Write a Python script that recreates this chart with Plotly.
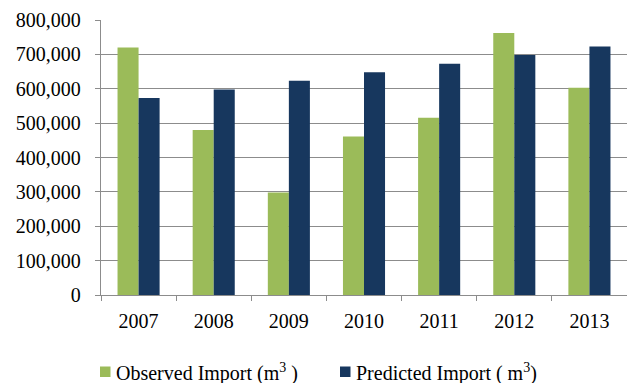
import plotly.graph_objects as go

years = ["2007", "2008", "2009", "2010", "2011", "2012", "2013"]
observed = [720000, 480000, 298000, 461000, 516000, 762000, 603000]
predicted = [573000, 598000, 623000, 648000, 673000, 698000, 723000]
y_ticks = [0, 100000, 200000, 300000, 400000, 500000, 600000, 700000, 800000]
y_tick_labels = ["0", "100,000", "200,000", "300,000", "400,000", "500,000", "600,000", "700,000", "800,000"]
series_names = ["Observed Import (m<sup>3</sup> )", "Predicted Import ( m<sup>3</sup>)"]

GREEN = "#9BBB59"
NAVY = "#17375E"
GRID = "#8C8C8C"
FONT = "Liberation Serif"

W, H = 627, 383
ML, MR, MT, MB = 101, 0, 20, 88
PW, PH = W - ML - MR, H - MT - MB


def px_x(px):
    return (px - ML) / PW


def px_y(py):
    return (H - MB - py) / PH


fig = go.Figure()
fig.add_trace(go.Bar(x=years, y=observed, name=series_names[0],
                     marker=dict(color=GREEN, line=dict(width=0)), showlegend=False))
fig.add_trace(go.Bar(x=years, y=predicted, name=series_names[1],
                     marker=dict(color=NAVY, line=dict(width=0)), showlegend=False))

# legend drawn as key squares + text labels below the plot
legend_items = [(100, GREEN, series_names[0]), (340, NAVY, series_names[1])]
for sx, col, name in legend_items:
    fig.add_shape(type="rect", xref="paper", yref="paper",
                  x0=px_x(sx), x1=px_x(sx + 10.5), y0=px_y(377), y1=px_y(366.5),
                  fillcolor=col, line=dict(width=0))
    fig.add_annotation(xref="paper", yref="paper", x=px_x(sx + 14), y=px_y(372),
                       xanchor="left", yanchor="middle", showarrow=False, text=name,
                       font=dict(family=FONT, size=20, color="#000000"))

fig.update_layout(
    width=W, height=H,
    margin=dict(l=ML, r=MR, t=MT, b=MB),
    paper_bgcolor="white", plot_bgcolor="white",
    barmode="group", bargap=0.44, bargroupgap=0,
    font=dict(family=FONT, size=20, color="#000000"),
    showlegend=False,
)
fig.update_yaxes(range=[0, 800000], tickvals=y_ticks, ticktext=y_tick_labels,
                 showgrid=True, gridcolor=GRID, gridwidth=1.3,
                 showline=True, linecolor=GRID, linewidth=1.3,
                 ticks="outside", ticklen=5, tickcolor=GRID, tickwidth=1.3,
                 ticklabelstandoff=10, zeroline=False,
                 tickfont=dict(family=FONT, size=20, color="#000000"))
fig.update_xaxes(showline=True, linecolor=GRID, linewidth=1.3,
                 ticks="outside", ticklen=5, tickcolor=GRID, tickwidth=1.3,
                 tickson="boundaries", showgrid=False, ticklabelstandoff=8,
                 tickfont=dict(family=FONT, size=20, color="#000000"))

fig.write_html("out.html")
